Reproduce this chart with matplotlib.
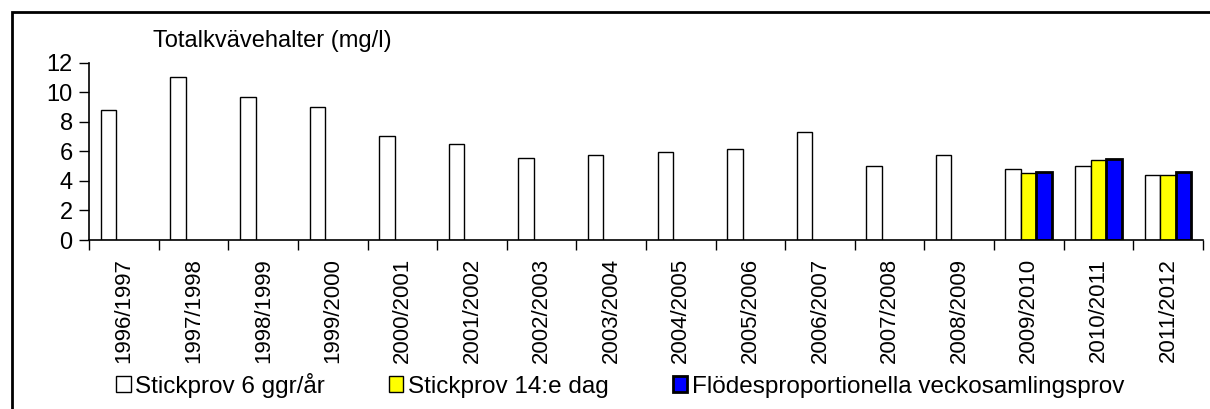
import matplotlib
matplotlib.use("Agg")
import matplotlib.pyplot as plt
import numpy as np
from matplotlib.patches import Rectangle

plt.rcParams['font.family'] = ['Liberation Sans', 'DejaVu Sans']

seasons = ['1996/1997', '1997/1998', '1998/1999', '1999/2000', '2000/2001',
           '2001/2002', '2002/2003', '2003/2004', '2004/2005', '2005/2006',
           '2006/2007', '2007/2008', '2008/2009', '2009/2010', '2010/2011',
           '2011/2012']
stick6 = [8.8, 11.0, 9.7, 8.97, 7.07, 6.47, 5.57, 5.73, 5.93, 6.13,
          7.28, 4.98, 5.73, 4.78, 4.98, 4.42]
stick14 = [np.nan] * 13 + [4.51, 5.39, 4.42]
flode = [np.nan] * 13 + [4.6, 5.5, 4.6]
labels = ['Stickprov 6 ggr/år', 'Stickprov 14:e dag',
          'Flödesproportionella veckosamlingsprov']

W, H = 1210, 409
fig = plt.figure(figsize=(W / 100, H / 100), dpi=100)
ax = fig.add_axes([89.3 / W, 1 - 240 / H, (1202.7 - 89.3) / W, (240 - 62.7) / H])

x = np.arange(len(seasons))
bw = 0.223
b1 = ax.bar(x - bw, stick6, bw, color='white', edgecolor='black', lw=1.0, label=labels[0])
b2 = ax.bar(x, stick14, bw, color='#ffff00', edgecolor='black', lw=1.0, label=labels[1])
b3 = ax.bar(x + bw, flode, bw, color='#0000ff', edgecolor='black', lw=2.0, label=labels[2])

ax.set_xlim(-0.5, len(seasons) - 0.5)
ax.set_ylim(0, 12)
ax.set_yticks(range(0, 13, 2))
ax.set_xticks(x)
ax.set_xticklabels(seasons, rotation=90, fontsize=16)
ax.set_xticks(np.arange(-0.5, len(seasons)), minor=True)
ax.tick_params(axis='x', which='major', length=0, pad=13)
ax.tick_params(axis='x', which='minor', length=7, width=1, direction='out')
ax.tick_params(axis='y', length=7, width=1, labelsize=17, pad=5)
for s in ['top', 'right']:
    ax.spines[s].set_visible(False)
for s in ['left', 'bottom']:
    ax.spines[s].set_linewidth(1.2)

fig.text(153 / W, 1 - 47 / H, 'Totalkvävehalter (mg/l)', fontsize=17)

fig.legend(handles=[b1, b2, b3], labels=labels, loc='center left',
           bbox_to_anchor=(116 / W, 1 - 385 / H), ncol=3, frameon=False,
           fontsize=17.5, handlelength=0.6, handleheight=0.6,
           handletextpad=0.2, columnspacing=2.62, borderpad=0, borderaxespad=0)

fig.patches.append(Rectangle((11.7 / W, -0.1), 1.2, 1 - 11.7 / H + 0.1,
                             transform=fig.transFigure, fill=False,
                             edgecolor='black', lw=2))

fig.savefig('out.png', dpi=100)
